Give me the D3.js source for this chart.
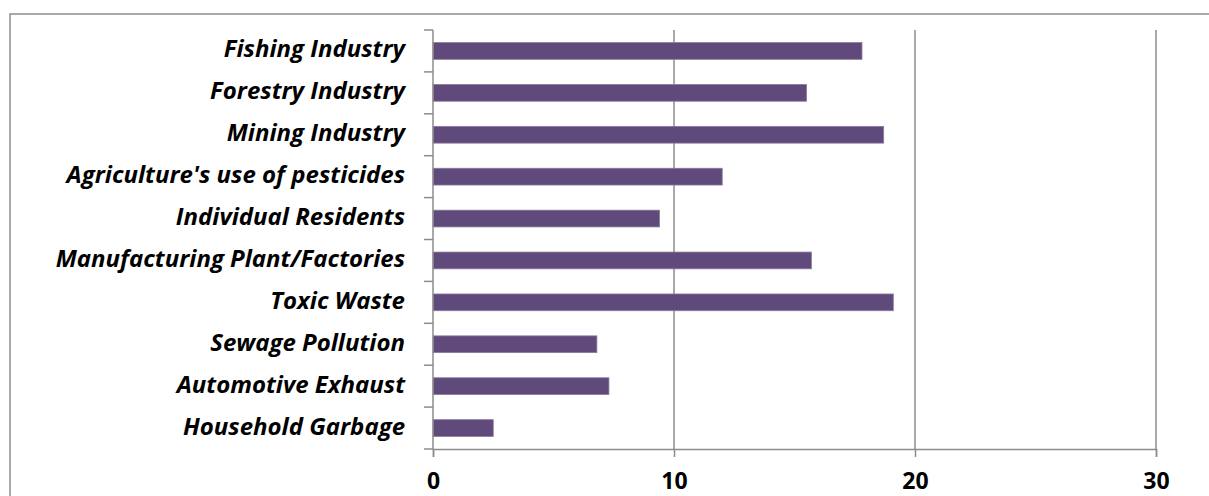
<!DOCTYPE html>
<html>
<head>
<meta charset="utf-8">
<script src="https://cdn.jsdelivr.net/npm/d3@7"></script>
<style>
  html, body { margin: 0; padding: 0; background: #fff; overflow: hidden; }
  svg { display: block; }
  .cat { font-family: "Open Sans", "Lato", sans-serif; font-weight: 700; font-style: italic; font-size: 24px; fill: #000; }
  .val { font-family: "Open Sans", "Lato", sans-serif; font-weight: 700; font-size: 23px; fill: #000; }
</style>
</head>
<body>
<script>
// Categories listed top to bottom
const categories = [
  "Fishing Industry",
  "Forestry Industry",
  "Mining Industry",
  "Agriculture's use of pesticides",
  "Individual Residents",
  "Manufacturing Plant/Factories",
  "Toxic Waste",
  "Sewage Pollution",
  "Automotive Exhaust",
  "Household Garbage"
];
const values = [17.8, 15.5, 18.7, 12.0, 9.4, 15.7, 19.1, 6.8, 7.3, 2.5];
const xTicks = [0, 10, 20, 30];

const W = 1209, H = 496;
const plot = { left: 433, right: 1156, top: 30, bottom: 449 };
const gridColor = "#8c8c8c";
const barColor = "#604a7b";

const svg = d3.select("body").append("svg").attr("width", W).attr("height", H);

// Outer chart frame
svg.append("rect")
  .attr("x", 10).attr("y", 14).attr("width", W + 20).attr("height", H + 20)
  .attr("fill", "none").attr("stroke", gridColor).attr("stroke-width", 1.5);

const x = d3.scaleLinear().domain([0, 30]).range([plot.left, plot.right]);
const y = d3.scaleBand().domain(categories).range([plot.top, plot.bottom]).paddingInner(0.6).paddingOuter(0.3);
const yEdges = d3.scaleLinear().domain([0, categories.length]).range([plot.top, plot.bottom]);

// Vertical gridlines
svg.append("g").selectAll("line").data(xTicks.slice(1)).join("line")
  .attr("x1", d => x(d)).attr("x2", d => x(d))
  .attr("y1", plot.top).attr("y2", plot.bottom)
  .attr("stroke", gridColor).attr("stroke-width", 1.5);

// Bars
svg.append("g").selectAll("rect").data(categories).join("rect")
  .attr("x", x(0))
  .attr("y", d => y(d))
  .attr("width", (d, i) => x(values[i]) - x(0))
  .attr("height", y.bandwidth())
  .attr("fill", barColor)
  .attr("stroke", "#8a7aa0").attr("stroke-width", 0.8);

// Category axis: line and ticks on band boundaries
const yAxisG = svg.append("g");
yAxisG.append("line")
  .attr("x1", plot.left).attr("x2", plot.left)
  .attr("y1", plot.top).attr("y2", plot.bottom)
  .attr("stroke", gridColor).attr("stroke-width", 1.5);
yAxisG.selectAll("line.tk").data(d3.range(categories.length + 1)).join("line")
  .attr("class", "tk")
  .attr("x1", plot.left - 9).attr("x2", plot.left)
  .attr("y1", d => yEdges(d)).attr("y2", d => yEdges(d))
  .attr("stroke", gridColor).attr("stroke-width", 1.5);
yAxisG.selectAll("text").data(categories).join("text")
  .attr("class", "cat")
  .attr("x", plot.left - 28)
  .attr("y", d => y(d) + y.bandwidth() / 2)
  .attr("dy", "0.27em")
  .attr("text-anchor", "end")
  .text(d => d);

// Value axis
const xAxis = d3.axisBottom(x).tickValues(xTicks).tickSize(8).tickFormat(d3.format("d"));
const xAxisG = svg.append("g").attr("transform", `translate(0,${plot.bottom})`).call(xAxis);
xAxisG.select(".domain").attr("stroke", gridColor).attr("stroke-width", 1.5);
xAxisG.selectAll(".tick line").attr("stroke", gridColor).attr("stroke-width", 1.5);
xAxisG.selectAll(".tick text")
  .attr("class", "val").attr("font-family", null).attr("font-size", null).attr("fill", null)
  .attr("y", 40).attr("dy", null);
</script>
</body>
</html>
